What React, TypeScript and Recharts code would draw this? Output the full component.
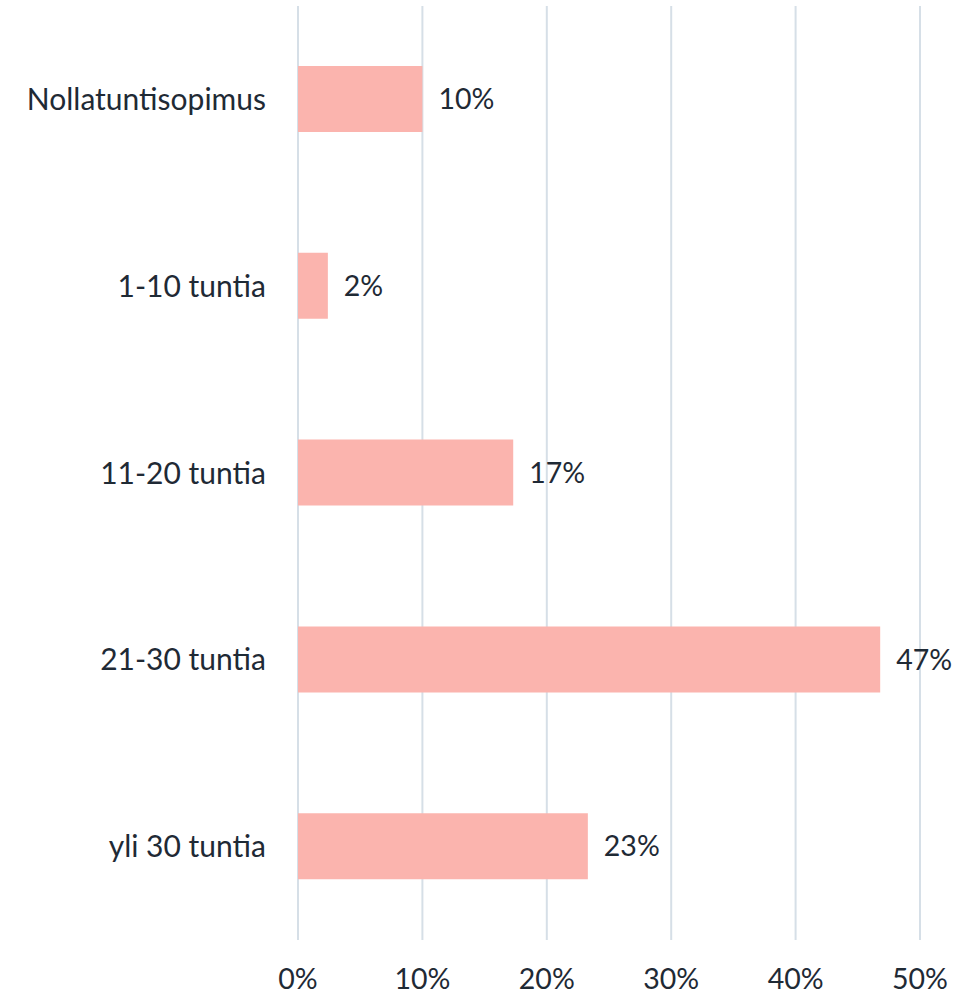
import React from "react";
import { BarChart, Bar, XAxis, YAxis, CartesianGrid, LabelList } from "recharts";

const categories = ["Nollatuntisopimus", "1-10 tuntia", "11-20 tuntia", "21-30 tuntia", "yli 30 tuntia"];
const shares = [10, 2.4, 17.3, 46.8, 23.3];
const shareLabels = ["10%", "2%", "17%", "47%", "23%"];
const xTicks = [0, 10, 20, 30, 40, 50];

const data = categories.map((name, i) => ({ name, value: shares[i], label: shareLabels[i] }));

const FONT = "Lato, 'Noto Sans', sans-serif";
const TEXT = "#1f2a35";

const App: React.FC = () => {
    return (
        <div style={{ position: "absolute", left: 0, top: 0 }}>
            <BarChart
                width={955}
                height={999}
                data={data}
                layout="vertical"
                margin={{ top: 6, right: 35, left: 0, bottom: 0 }}
            >
                <CartesianGrid horizontal={false} stroke="#d6dfe7" strokeWidth={2} />
                <XAxis
                    type="number"
                    domain={[0, 50]}
                    ticks={xTicks}
                    tickFormatter={(v) => `${v}%`}
                    axisLine={false}
                    tickLine={false}
                    tickSize={0}
                    tickMargin={29}
                    height={59}
                    tick={{ fill: TEXT, fontSize: 28.5, fontFamily: FONT }}
                />
                <YAxis
                    type="category"
                    dataKey="name"
                    width={298}
                    axisLine={false}
                    tickLine={false}
                    tickSize={0}
                    tickMargin={32}
                    tick={{ fill: TEXT, fontSize: 30, fontFamily: FONT }}
                />
                <Bar dataKey="value" fill="#fbb4ae" barSize={66} isAnimationActive={false}>
                    <LabelList
                        dataKey="label"
                        position="right"
                        offset={16}
                        fill={TEXT}
                        fontSize={28.5}
                        fontFamily={FONT}
                    />
                </Bar>
            </BarChart>
        </div>
    );
};

export default App;
